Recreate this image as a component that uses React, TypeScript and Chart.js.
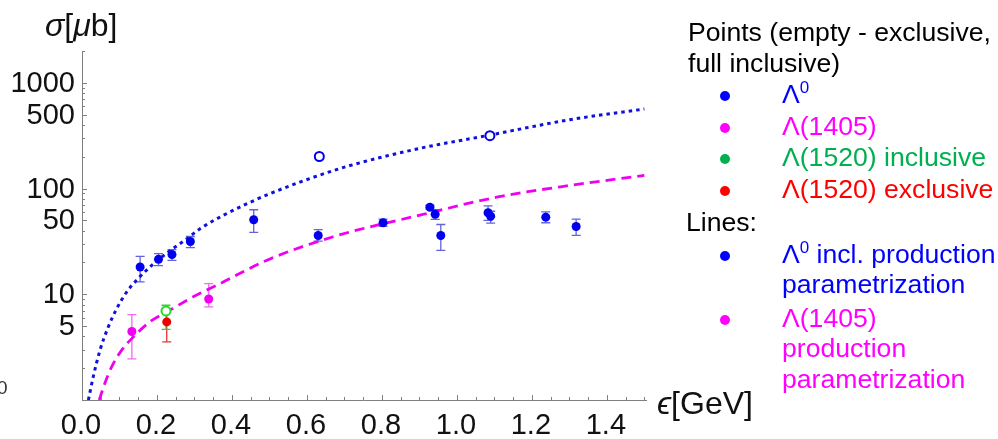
import React, { useEffect, useRef } from "react";
import { Chart, registerables } from "chart.js";
Chart.register(...registerables);

// ---- data ----
const lambda0X = [0.155, 0.204, 0.24, 0.289, 0.458, 0.63, 0.803, 0.928, 0.942, 0.957, 1.083, 1.09, 1.237, 1.318];
const lambda0Y = [18.1, 21.4, 23.8, 31.6, 50.7, 36, 47.5, 66.6, 57.2, 36, 59, 54.8, 53.6, 43.8];
const lambda0Lo = [13.1, 18.7, 20.9, 27.6, 38.5, 31.8, 43.9, 63.8, 51, 26, 49.9, 47, 47.5, 36];
const lambda0Hi = [22.8, 24.2, 26.4, 35.2, 63, 40.8, 51.4, 69.5, 63, 45.7, 68.5, 61, 60.3, 51.4];

const lambda0ExclX = [0.633, 1.088];
const lambda0ExclY = [201, 316];

const l1405X = [0.133, 0.338];
const l1405Y = [4.45, 9.03];
const l1405Lo = [2.45, 7.6];
const l1405Hi = [6.43, 12.6];

const l1520InclX = [0.224];
const l1520InclY = [6.96];
const l1520InclLo = [4.65];
const l1520InclHi = [7.87];

const l1520ExclX = [0.226];
const l1520ExclY = [5.48];
const l1520ExclLo = [3.55];
const l1520ExclHi = [7.3];

const lambda0CurveX = [0.017, 0.03, 0.048, 0.07, 0.0925, 0.119, 0.15, 0.186, 0.226, 0.28, 0.315, 0.448, 0.581, 0.715, 0.901, 1.079, 1.301, 1.5];
const lambda0CurveY = [1, 1.66, 2.96, 4.9, 7.3, 10.5, 14.1, 18.8, 24.5, 33.5, 41.7, 74, 115, 165, 240, 316, 448, 566];

const l1405CurveX = [0.046, 0.061, 0.079, 0.106, 0.137, 0.181, 0.226, 0.288, 0.315, 0.368, 0.492, 0.67, 0.901, 1.106, 1.301, 1.5];
const l1405CurveY = [1, 1.44, 2.06, 2.96, 3.95, 5.48, 6.8, 9.1, 10.2, 12.6, 20.9, 35, 56, 82.8, 107, 133];

const xTickLabels = ["0.0", "0.2", "0.4", "0.6", "0.8", "1.0", "1.2", "1.4"];
const xTickValues = [0, 0.2, 0.4, 0.6, 0.8, 1.0, 1.2, 1.4];
const yTickLabels = ["5", "10", "50", "100", "500", "1000"];
const yTickValues = [5, 10, 50, 100, 500, 1000];

const X_MIN = 0;
const X_MAX = 1.507;
const Y_MIN = 1;
const Y_MAX = 2000;

const BLUE = "#0000ee";
const MAGENTA = "#f000f0";
const GREEN_PT = "#22dd22";
const RED = "#ee0000";

const FONT = '"Liberation Sans", Arial, sans-serif';

const pts = (xs: number[], ys: number[]) => xs.map((x, i) => ({ x, y: ys[i] }));

type Run = { text: string; font: string; color: string; dy?: number };

function drawRuns(ctx: CanvasRenderingContext2D, runs: Run[], x: number, y: number) {
  let cx = x;
  for (const r of runs) {
    ctx.font = r.font;
    ctx.fillStyle = r.color;
    ctx.fillText(r.text, cx, y + (r.dy || 0));
    cx += ctx.measureText(r.text).width;
  }
}

const errorBarPlugin = {
  id: "errorBars",
  beforeDatasetsDraw(chart: any) {
    const ctx = chart.ctx;
    const ys = chart.scales.y;
    chart.data.datasets.forEach((ds: any, di: number) => {
      if (!ds.errLo) return;
      const meta = chart.getDatasetMeta(di);
      ctx.save();
      ctx.strokeStyle = ds.errColor;
      ctx.lineWidth = 1.3;
      meta.data.forEach((el: any, i: number) => {
        const px = el.x;
        const lo = ys.getPixelForValue(ds.errLo[i]);
        const hi = ys.getPixelForValue(ds.errHi[i]);
        ctx.beginPath();
        ctx.moveTo(px, lo);
        ctx.lineTo(px, hi);
        ctx.moveTo(px - 4.5, lo);
        ctx.lineTo(px + 4.5, lo);
        ctx.moveTo(px - 4.5, hi);
        ctx.lineTo(px + 4.5, hi);
        ctx.stroke();
      });
      ctx.restore();
    });
  },
};

const decorPlugin = {
  id: "decor",
  afterDraw(chart: any) {
    const ctx: CanvasRenderingContext2D = chart.ctx;
    const xs = chart.scales.x;
    const ys = chart.scales.y;
    const a = chart.chartArea;
    ctx.save();
    // axes
    ctx.strokeStyle = "#808080";
    ctx.lineWidth = 1;
    ctx.beginPath();
    ctx.moveTo(a.left + 0.5, a.top);
    ctx.lineTo(a.left + 0.5, a.bottom + 0.5);
    ctx.lineTo(a.right, a.bottom + 0.5);
    ctx.stroke();
    // y ticks
    ctx.beginPath();
    for (const d of [1, 10, 100, 1000]) {
      for (let m = 1; m <= 9; m++) {
        const v = m * d;
        if (v > Y_MAX) break;
        const py = Math.round(ys.getPixelForValue(v)) + 0.5;
        const len = m === 1 || m === 5 ? 5 : 3;
        ctx.moveTo(a.left, py);
        ctx.lineTo(a.left + len, py);
      }
    }
    {
      const py = Math.round(ys.getPixelForValue(Y_MAX)) + 0.5;
      ctx.moveTo(a.left, py);
      ctx.lineTo(a.left + 3, py);
    }
    // x ticks
    for (let k = 1; k <= 30; k++) {
      const v = k * 0.05;
      const px = Math.round(xs.getPixelForValue(v)) + 0.5;
      const len = k % 4 === 0 ? 5 : 3;
      ctx.moveTo(px, a.bottom);
      ctx.lineTo(px, a.bottom - len);
    }
    ctx.stroke();

    // tick labels
    ctx.fillStyle = "#111";
    ctx.font = `29px ${FONT}`;
    ctx.textAlign = "right";
    ctx.textBaseline = "middle";
    yTickValues.forEach((v, i) => {
      ctx.fillText(yTickLabels[i], a.left - 7, ys.getPixelForValue(v) + 1);
    });
    ctx.textAlign = "center";
    ctx.textBaseline = "alphabetic";
    xTickValues.forEach((v, i) => {
      ctx.fillText(xTickLabels[i], xs.getPixelForValue(v) - 1, 434);
    });

    // stray fragment at left edge
    ctx.textAlign = "left";
    ctx.font = `19px ${FONT}`;
    ctx.fillStyle = "#333";
    ctx.fillText("0", -3, 394);

    // axis titles
    const big = `32px ${FONT}`;
    const bigI = `italic 32px ${FONT}`;
    drawRuns(ctx, [
      { text: "σ", font: bigI, color: "#111" },
      { text: "[", font: big, color: "#111" },
      { text: "μ", font: bigI, color: "#111" },
      { text: "b]", font: big, color: "#111" },
    ], 45, 36);
    drawRuns(ctx, [
      { text: "ϵ", font: bigI, color: "#111" },
      { text: "[GeV]", font: big, color: "#111" },
    ], 657, 414);

    // legend
    const f = `26.6px ${FONT}`;
    const fs = `17px ${FONT}`;
    const LB = "#0000ff";
    const LM = "#ff00ff";
    const LG = "#00b050";
    const LR = "#ff0000";
    drawRuns(ctx, [{ text: "Points (empty - exclusive,", font: f, color: "#000" }], 688, 41);
    drawRuns(ctx, [{ text: "full inclusive)", font: f, color: "#000" }], 688, 72);
    const lx = 782;
    const dot = (y: number, c: string) => {
      ctx.beginPath();
      ctx.fillStyle = c;
      ctx.arc(725, y, 5, 0, Math.PI * 2);
      ctx.fill();
    };
    dot(96, LB);
    drawRuns(ctx, [
      { text: "Λ", font: f, color: LB },
      { text: "0", font: fs, color: LB, dy: -10 },
    ], lx, 103);
    dot(128, LM);
    drawRuns(ctx, [{ text: "Λ(1405)", font: f, color: LM }], lx, 135);
    dot(159, LG);
    drawRuns(ctx, [{ text: "Λ(1520) inclusive", font: f, color: LG }], lx, 166);
    dot(191, LR);
    drawRuns(ctx, [{ text: "Λ(1520) exclusive", font: f, color: LR }], lx, 198);
    drawRuns(ctx, [{ text: "Lines:", font: f, color: "#000" }], 686, 231);
    dot(256, LB);
    drawRuns(ctx, [
      { text: "Λ", font: f, color: LB },
      { text: "0", font: fs, color: LB, dy: -10 },
      { text: " incl. production", font: f, color: LB },
    ], lx, 263);
    drawRuns(ctx, [{ text: "parametrization", font: f, color: LB }], lx, 293);
    dot(320, LM);
    drawRuns(ctx, [{ text: "Λ(1405)", font: f, color: LM }], lx, 327);
    drawRuns(ctx, [{ text: "production", font: f, color: LM }], lx, 357);
    drawRuns(ctx, [{ text: "parametrization", font: f, color: LM }], lx, 388);
    ctx.restore();
  },
};

export default function App() {
  const ref = useRef<HTMLCanvasElement | null>(null);
  useEffect(() => {
    if (!ref.current) return;
    const chart = new Chart(ref.current, {
      type: "scatter",
      data: {
        datasets: [
          {
            label: "Λ0",
            data: pts(lambda0X, lambda0Y),
            pointRadius: 4.5,
            pointBackgroundColor: BLUE,
            pointBorderWidth: 0,
            showLine: false,
            order: 1,
            errLo: lambda0Lo,
            errHi: lambda0Hi,
            errColor: "rgba(60,60,210,0.8)",
          } as any,
          {
            label: "Λ0 excl",
            data: pts(lambda0ExclX, lambda0ExclY),
            pointRadius: 4.5,
            pointBackgroundColor: "#ffffff",
            pointBorderColor: BLUE,
            pointBorderWidth: 2,
            showLine: false,
            order: 1,
          },
          {
            label: "Λ(1405)",
            data: pts(l1405X, l1405Y),
            pointRadius: 4.5,
            pointBackgroundColor: MAGENTA,
            pointBorderWidth: 0,
            showLine: false,
            order: 1,
            errLo: l1405Lo,
            errHi: l1405Hi,
            errColor: "rgba(235,80,235,0.85)",
          } as any,
          {
            label: "Λ(1520) excl",
            data: pts(l1520ExclX, l1520ExclY),
            pointRadius: 4.5,
            pointBackgroundColor: RED,
            pointBorderWidth: 0,
            showLine: false,
            order: 1,
            errLo: l1520ExclLo,
            errHi: l1520ExclHi,
            errColor: "rgba(230,30,30,0.9)",
          } as any,
          {
            label: "Λ(1520) incl",
            data: pts(l1520InclX, l1520InclY),
            pointRadius: 4.5,
            pointBackgroundColor: "#ffffff",
            pointBorderColor: GREEN_PT,
            pointBorderWidth: 2,
            showLine: false,
            order: 0,
            errLo: l1520InclLo,
            errHi: l1520InclHi,
            errColor: "rgba(40,200,40,0.9)",
          } as any,
          {
            label: "Λ0 param",
            data: pts(lambda0CurveX, lambda0CurveY),
            showLine: true,
            pointRadius: 0,
            borderColor: "#1010dd",
            borderWidth: 3,
            borderDash: [3.5, 4],
            cubicInterpolationMode: "monotone",
            order: 2,
          },
          {
            label: "Λ(1405) param",
            data: pts(l1405CurveX, l1405CurveY),
            showLine: true,
            pointRadius: 0,
            borderColor: MAGENTA,
            borderWidth: 2.8,
            borderDash: [10, 6],
            cubicInterpolationMode: "monotone",
            order: 2,
          },
        ],
      },
      options: {
        animation: false,
        responsive: false,
        devicePixelRatio: 1,
        layout: { padding: { left: 82, right: 351, top: 51, bottom: 39 } },
        plugins: { legend: { display: false }, tooltip: { enabled: false } },
        scales: {
          x: { type: "linear", min: X_MIN, max: X_MAX, display: false },
          y: { type: "logarithmic", min: Y_MIN, max: Y_MAX, display: false },
        },
      },
      plugins: [errorBarPlugin, decorPlugin],
    });
    return () => chart.destroy();
  }, []);
  return (
    <div style={{ position: "absolute", left: 0, top: 0, width: 998, height: 439, background: "#fff" }}>
      <canvas ref={ref} width={998} height={439} />
    </div>
  );
}
